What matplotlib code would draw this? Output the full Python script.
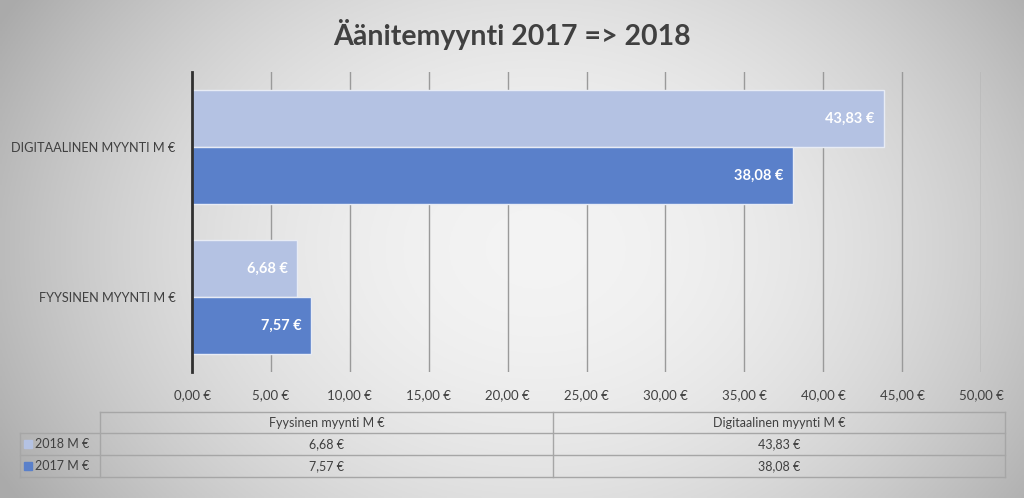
import matplotlib
matplotlib.use("Agg")
import matplotlib.pyplot as plt
import numpy as np

plt.rcParams['font.family'] = ['Lato', 'DejaVu Sans']

title = "Äänitemyynti 2017 => 2018"
categories = ["Fyysinen myynti M €", "Digitaalinen myynti M €"]
series_names = ["2018 M €", "2017 M €"]
values_2018 = [6.68, 43.83]
values_2017 = [7.57, 38.08]
x_ticks = [0, 5, 10, 15, 20, 25, 30, 35, 40, 45, 50]

col_2018 = "#b4c2e3"
col_2017 = "#5a80ca"
txt = "#404040"


def eur(v):
    return f"{v:.2f}".replace(".", ",") + " €"


W, H = 1024, 498
fig = plt.figure(figsize=(W / 100, H / 100), dpi=100)

# gradient background
bg = fig.add_axes([0, 0, 1, 1], zorder=-10)
xx = np.linspace(-1, 1, 400)
yy = np.linspace(-1, 1, 200)
X, Y = np.meshgrid(xx, yy)
r = np.sqrt(((X - 0.05) / 1.0) ** 2 + (Y / 1.6) ** 2)
shade = 0.955 - 0.2 * np.clip(r, 0, 1.2) ** 2
bg.imshow(np.dstack([shade] * 3), aspect="auto", extent=[0, 1, 0, 1])
bg.axis("off")


def px(x0, y0, x1, y1):
    return [x0 / W, 1 - y1 / H, (x1 - x0) / W, (y1 - y0) / H]


ax = fig.add_axes(px(192, 72, 981, 372))
ax.patch.set_alpha(0)

pos = np.arange(len(categories))
h = 0.38
ax.barh(pos + h / 2, values_2018, height=h, color=col_2018, edgecolor="#e8ecf5", linewidth=1.0, zorder=3)
ax.barh(pos - h / 2, values_2017, height=h, color=col_2017, edgecolor="#e8ecf5", linewidth=1.0, zorder=3)
for i in pos:
    ax.text(values_2018[i] - 0.6, i + h / 2, eur(values_2018[i]), ha="right", va="center",
            color="white", fontsize=10.5, fontweight="bold", zorder=4)
    ax.text(values_2017[i] - 0.6, i - h / 2, eur(values_2017[i]), ha="right", va="center",
            color="white", fontsize=10.5, fontweight="bold", zorder=4)

ax.set_xlim(0, 50)
ax.set_ylim(-0.5, 1.5)
ax.set_xticks(x_ticks)
ax.set_xticklabels([eur(v) for v in x_ticks], fontsize=9.5, color=txt)
ax.set_yticks(pos)
ax.set_yticklabels([c.upper() for c in categories], fontsize=9.2, color=txt)
ax.tick_params(axis="both", length=0, pad=12)
ax.tick_params(axis="y", pad=12)
ax.grid(axis="x", color="#9a9a9a", linewidth=1.0, zorder=0)
for s in ["top", "right", "bottom"]:
    ax.spines[s].set_visible(False)
ax.spines["left"].set_color("#303030")
ax.spines["left"].set_linewidth(2)
ax.spines["left"].set_zorder(5)

fig.text(0.5, 1 - 35 / H, title, ha="center", va="center", fontsize=20.5,
         fontweight="bold", color=txt)

# data table below the chart
tb = fig.add_axes([0, 0, 1, 1], zorder=5)
tb.set_xlim(0, W)
tb.set_ylim(H, 0)
tb.axis("off")
lc = "#a6a6a6"
cols = [20, 100, 553, 1005]
rows = [412, 433, 455, 477]
tb.plot([cols[1], cols[3]], [rows[0], rows[0]], color=lc, lw=1)
for y in rows[1:]:
    tb.plot([cols[0], cols[3]], [y, y], color=lc, lw=1)
tb.plot([cols[0], cols[0]], [rows[1], rows[3]], color=lc, lw=1)
for x in cols[1:]:
    tb.plot([x, x], [rows[0], rows[3]], color=lc, lw=1)
for j, c in enumerate(categories):
    cx = (cols[j + 1] + cols[j + 2]) / 2
    tb.text(cx, (rows[0] + rows[1]) / 2, c, ha="center", va="center", fontsize=9, color=txt)
    tb.text(cx, (rows[1] + rows[2]) / 2, eur(values_2018[j]), ha="center", va="center", fontsize=9, color=txt)
    tb.text(cx, (rows[2] + rows[3]) / 2, eur(values_2017[j]), ha="center", va="center", fontsize=9, color=txt)
for k, (name, colr) in enumerate(zip(series_names, [col_2018, col_2017])):
    yc = (rows[k + 1] + rows[k + 2]) / 2
    tb.add_patch(plt.Rectangle((24, yc - 4), 8, 8, color=colr))
    tb.text(35, yc, name, ha="left", va="center", fontsize=9, color=txt)

fig.savefig("out.png", dpi=100)
